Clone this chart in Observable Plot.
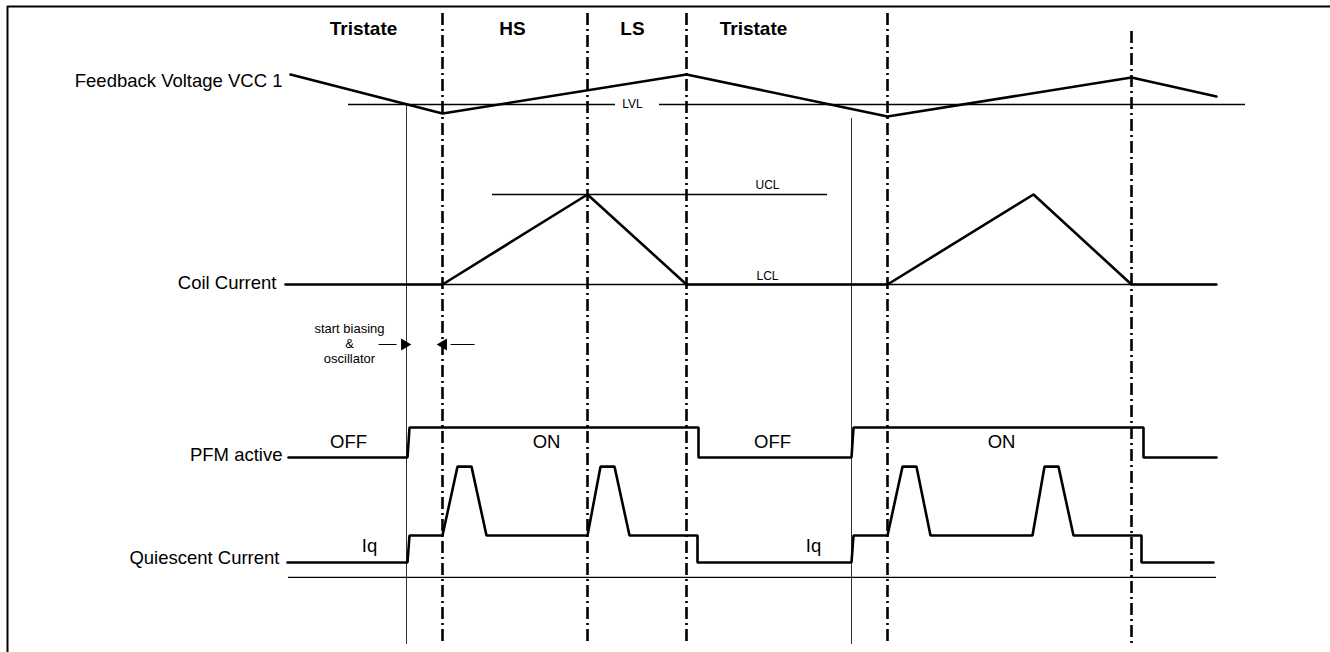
<!DOCTYPE html>
<html><head><meta charset="utf-8">
<script src="https://cdn.jsdelivr.net/npm/d3@7"></script>
<script src="https://cdn.jsdelivr.net/npm/@observablehq/plot@0.6"></script>
<style>
html,body{margin:0;padding:0;background:#fff;overflow:hidden;}
</style></head><body>
<script>
// ---- data (time in arbitrary units) ----
const phaseT = [15.2, 29.7, 39.6, 59.7, 84.1];          // dash-dot phase boundaries
const phaseLabels = ["Tristate", "HS", "LS", "Tristate"];
const phaseLabelT = [7.3, 22.2, 34.2, 46.3];
const biasT = [11.6, 56.1];                              // start biasing instants

const fbT = [0, 15.2, 39.6, 59.7, 84.1, 92.6];          // feedback voltage
const fbV = [30, -9, 30, -12, 27, 8];                    // relative to LVL (0)
const lvlSegStart = [5.8, 36.9];
const lvlSegEnd = [32.5, 95.5];

const coilT = [-0.5, 15.2, 29.7, 39.6, 59.7, 74.3, 84.1, 92.6];
const coilI = [0, 0, 1, 0, 0, 1, 0, 0];                 // 1 = UCL, 0 = LCL
const uclSpan = [20.2, 53.7];
const lclSpan = [11.6, 92.6];

const pfmT = [-0.2, 11.7, 11.9, 40.8, 40.8, 56.1, 56.3, 85.3, 85.3, 92.6];
const pfmS = [0, 0, 1, 1, 0, 0, 1, 1, 0, 0];
const pfmLabels = ["OFF", "ON", "OFF", "ON"];
const pfmLabelT = [5.8, 25.6, 48.2, 71.1];

const iqT = [-0.3, 11.7, 11.9, 15.2, 16.7, 18.1, 19.6, 29.7, 31.0, 32.4, 33.9, 40.7, 40.7, 56.1, 56.3, 59.7, 61.2, 62.6, 64.0, 74.2, 75.4, 76.8, 78.3, 85.1, 85.1, 92.3];
const iqV = [0, 0, 1, 1, 3.55, 3.55, 1, 1, 3.55, 3.55, 1, 1, 0, 0, 1, 1, 3.55, 3.55, 1, 1, 3.55, 3.55, 1, 1, 0, 0];
const iqLabelT = [7.9, 52.3];
const iqAxisSpan = [-0.2, 92.6];

const rowNames = ["Feedback Voltage VCC 1", "Coil Current", "PFM active", "Quiescent Current"];

// ---- layout (not data) ----
const rows = {
  fb:   {base: 104, gain: 1,  labelY: 81,  labelX: -0.8},
  coil: {base: 284, gain: 90, labelY: 283, labelX: -1.4},
  pfm:  {base: 457, gain: 30, labelY: 455, labelX: -0.8},
  iq:   {base: 562, gain: 27, labelY: 558, labelX: -1.1}
};
const rowKeys = ["fb", "coil", "pfm", "iq"];
const Y = (k, v) => rows[k].base - v * rows[k].gain;
const zip = (a, b) => a.map((t, i) => ({t, v: b[i]}));

const font = "Liberation Sans, Arial, Helvetica, sans-serif";
const thick = 2.6;

const chart = Plot.plot({
  width: 1330, height: 652,
  margin: 0,
  x: {domain: [-29, 104], range: [0, 1330], axis: null},
  y: {domain: [0, 652], range: [0, 652], axis: null},
  style: {fontFamily: font, color: "#000", background: "#fff"},
  marks: [
    // page frame (top and left)
    Plot.ruleY([6], {y: d => d, x1: () => -28.3, x2: () => 104, stroke: "#000", strokeWidth: 2}),
    Plot.ruleX([-28.3], {x: d => d, y1: () => 6, y2: () => 652, stroke: "#000", strokeWidth: 2}),
    // phase boundaries (dash-dot)
    Plot.ruleX(phaseT, {x: d => d, y1: (d, i) => i === 4 ? 31 : 13, y2: 644,
      stroke: "#000", strokeWidth: 2.6, strokeDasharray: "12,4,2,4"}),
    // start-biasing verticals
    Plot.ruleX(biasT, {x: d => d, y1: (d, i) => i === 0 ? Y("fb", 0) : Y("fb", -14), y2: 644,
      stroke: "#333", strokeWidth: 1}),
    // LVL
    Plot.ruleY(lvlSegStart, {y: () => Y("fb", 0), x1: d => d, x2: (d, i) => lvlSegEnd[i],
      stroke: "#000", strokeWidth: 1.3}),
    Plot.text(["LVL"], {x: () => 34.2, y: () => Y("fb", 0), text: d => d, fontSize: 12, lineAnchor: "middle"}),
    Plot.line(zip(fbT, fbV), {x: "t", y: d => Y("fb", d.v), stroke: "#000", strokeWidth: thick}),
    // UCL / LCL
    Plot.ruleY([1], {y: d => Y("coil", d), x1: () => uclSpan[0], x2: () => uclSpan[1], stroke: "#000", strokeWidth: 1.3}),
    Plot.ruleY([0], {y: d => Y("coil", d), x1: () => lclSpan[0], x2: () => lclSpan[1], stroke: "#000", strokeWidth: 1.3}),
    Plot.text(["UCL", "LCL"], {x: () => 47.7, y: (d, i) => i === 0 ? Y("coil", 1) - 9 : Y("coil", 0) - 8,
      text: d => d, fontSize: 12, lineAnchor: "middle"}),
    Plot.line(zip(coilT, coilI), {x: "t", y: d => Y("coil", d.v), stroke: "#000", strokeWidth: thick}),
    // PFM active
    Plot.line(zip(pfmT, pfmS), {x: "t", y: d => Y("pfm", d.v), stroke: "#000", strokeWidth: thick, strokeLinejoin: "miter"}),
    Plot.text(pfmLabels, {x: (d, i) => pfmLabelT[i], y: () => Y("pfm", 0.5), text: d => d, fontSize: 18.5, lineAnchor: "middle"}),
    // Quiescent current
    Plot.ruleY([-0.55], {y: d => Y("iq", d), x1: () => iqAxisSpan[0], x2: () => iqAxisSpan[1], stroke: "#000", strokeWidth: 1.3}),
    Plot.line(zip(iqT, iqV), {x: "t", y: d => Y("iq", d.v), stroke: "#000", strokeWidth: thick, strokeLinejoin: "miter"}),
    Plot.text(iqLabelT, {x: d => d, y: () => Y("iq", 0.6), text: () => "Iq", fontSize: 18.5, lineAnchor: "middle"}),
    // annotation: start biasing & oscillator
    Plot.text(["start biasing\n&\noscillator"], {x: () => 5.9, y: () => 343, text: d => d, fontSize: 13,
      lineHeight: 1.15, lineAnchor: "middle"}),
    Plot.link([{a: 8.8, b: 10.6}, {a: 18.4, b: 16.0}], {x1: "a", x2: "b", y1: () => 344, y2: () => 344,
      stroke: "#000", strokeWidth: 1}),
    Plot.dot([{x: 11.4, r: 90, dx: -6.4}, {x: 15.3, r: -90, dx: 6.4}], {x: "x", y: () => 344, dx: 0,
      symbol: "triangle", r: 4.4, rotate: "r", fill: "#000", stroke: "none"}),
    // phase titles
    Plot.text(phaseLabels, {x: (d, i) => phaseLabelT[i], y: () => 28, text: d => d, fontSize: 19,
      fontWeight: "bold", lineAnchor: "middle"}),
    // row labels
    Plot.text(rowNames, {x: (d, i) => rows[rowKeys[i]].labelX, y: (d, i) => rows[rowKeys[i]].labelY, text: d => d, fontSize: 18.5,
      textAnchor: "end", lineAnchor: "middle"})
  ]
});
document.body.append(chart);
chart.style.display = "block";
</script>
</body></html>
